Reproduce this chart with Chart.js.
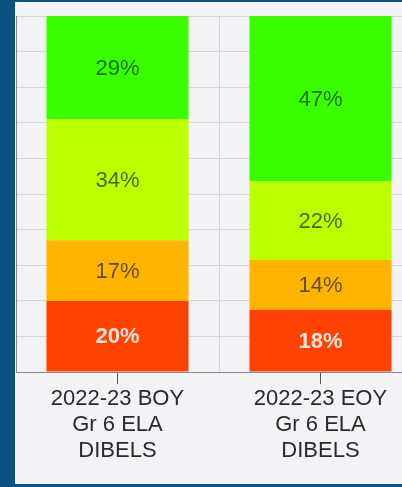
<!DOCTYPE html>
<html>
<head>
<meta charset="utf-8">
<script src="https://cdn.jsdelivr.net/npm/chart.js@4/dist/chart.umd.min.js"></script>
<style>
  html, body { margin: 0; padding: 0; background: #0b5283; overflow: hidden; width: 402px; height: 487px; }
  #panel { position: absolute; left: 15px; top: 2px; width: 387px; height: 482px; background: #f3f3f6; overflow: hidden; }
  #myChart { position: absolute; left: 0; top: 0; }
</style>
</head>
<body>
<div id="panel"><canvas id="myChart" width="407" height="482"></canvas></div>
<script>
// categories, one label line per entry
var categories = [
    ["2022-23 BOY", "Gr 6 ELA", "DIBELS"],
    ["2022-23 EOY", "Gr 6 ELA", "DIBELS"]
];

// percent of students per level, bottom to top
var redVals = [20, 17.5];
var orangeVals = [17, 14];
var yellowVals = [34, 22];
var greenVals = [29, 46.5];

var yTicks = [0, 10, 20, 30, 40, 50, 60, 70, 80, 90, 100];

var FONT = "'Liberation Sans', Arial, sans-serif";

// draws the % text in the middle of each segment
var segmentLabels = {
    id: "segmentLabels",
    afterDatasetsDraw: function (chart) {
        var c = chart.ctx;
        c.save();
        c.textAlign = "center";
        c.textBaseline = "middle";
        chart.data.datasets.forEach(function (ds, i) {
            var meta = chart.getDatasetMeta(i);
            meta.data.forEach(function (bar, j) {
                var v = ds.data[j];
                c.font = (ds.labelBold ? "bold " : "") + "22px " + FONT;
                c.fillStyle = ds.labelColor;
                c.fillText(Math.round(v) + "%", bar.x, (bar.y + bar.base) / 2 + 1);
            });
        });
        c.restore();
    }
};

var ctx = document.getElementById("myChart").getContext("2d");

var myChart = new Chart(ctx, {
    type: "bar",
    data: {
        labels: categories,
        datasets: [
            { label: "Red", data: redVals, backgroundColor: "#ff4200", labelColor: "rgba(255,238,225,0.95)", labelBold: true },
            { label: "Orange", data: orangeVals, backgroundColor: "#ffb500", labelColor: "rgba(40,25,0,0.7)" },
            { label: "Yellow", data: yellowVals, backgroundColor: "#bbff00", labelColor: "rgba(20,40,0,0.7)" },
            { label: "Green", data: greenVals, backgroundColor: "#3aff00", labelColor: "rgba(10,50,0,0.7)" }
        ]
    },
    options: {
        responsive: false,
        animation: false,
        devicePixelRatio: 1,
        layout: { padding: { top: 14, left: 1, right: 0, bottom: 18 } },
        datasets: {
            bar: { barPercentage: 0.7, categoryPercentage: 1, borderWidth: 0 }
        },
        plugins: {
            legend: { display: false },
            tooltip: { enabled: false }
        },
        scales: {
            x: {
                stacked: true,
                offset: true,
                grid: { offset: false, drawOnChartArea: false, tickLength: 12, color: "#555" },
                border: { display: true, color: "#888" },
                ticks: {
                    color: "#2a2a2a",
                    padding: 2,
                    maxRotation: 0,
                    autoSkip: false,
                    font: { family: FONT, size: 22, lineHeight: 1.18 }
                }
            },
            xg: {
                type: "category",
                position: "top",
                labels: categories,
                offset: true,
                grid: { offset: true, drawTicks: false, color: "#d6d6d8" },
                border: { display: false },
                ticks: { display: false }
            },
            y: {
                stacked: true,
                min: yTicks[0],
                max: yTicks[yTicks.length - 1],
                afterBuildTicks: function (axis) {
                    axis.ticks = yTicks.map(function (v) { return { value: v }; });
                },
                grid: { drawTicks: false, color: "#d6d6d8" },
                border: { display: true, color: "#888" },
                ticks: { display: false }
            }
        }
    },
    plugins: [segmentLabels]
});
</script>
</body>
</html>
